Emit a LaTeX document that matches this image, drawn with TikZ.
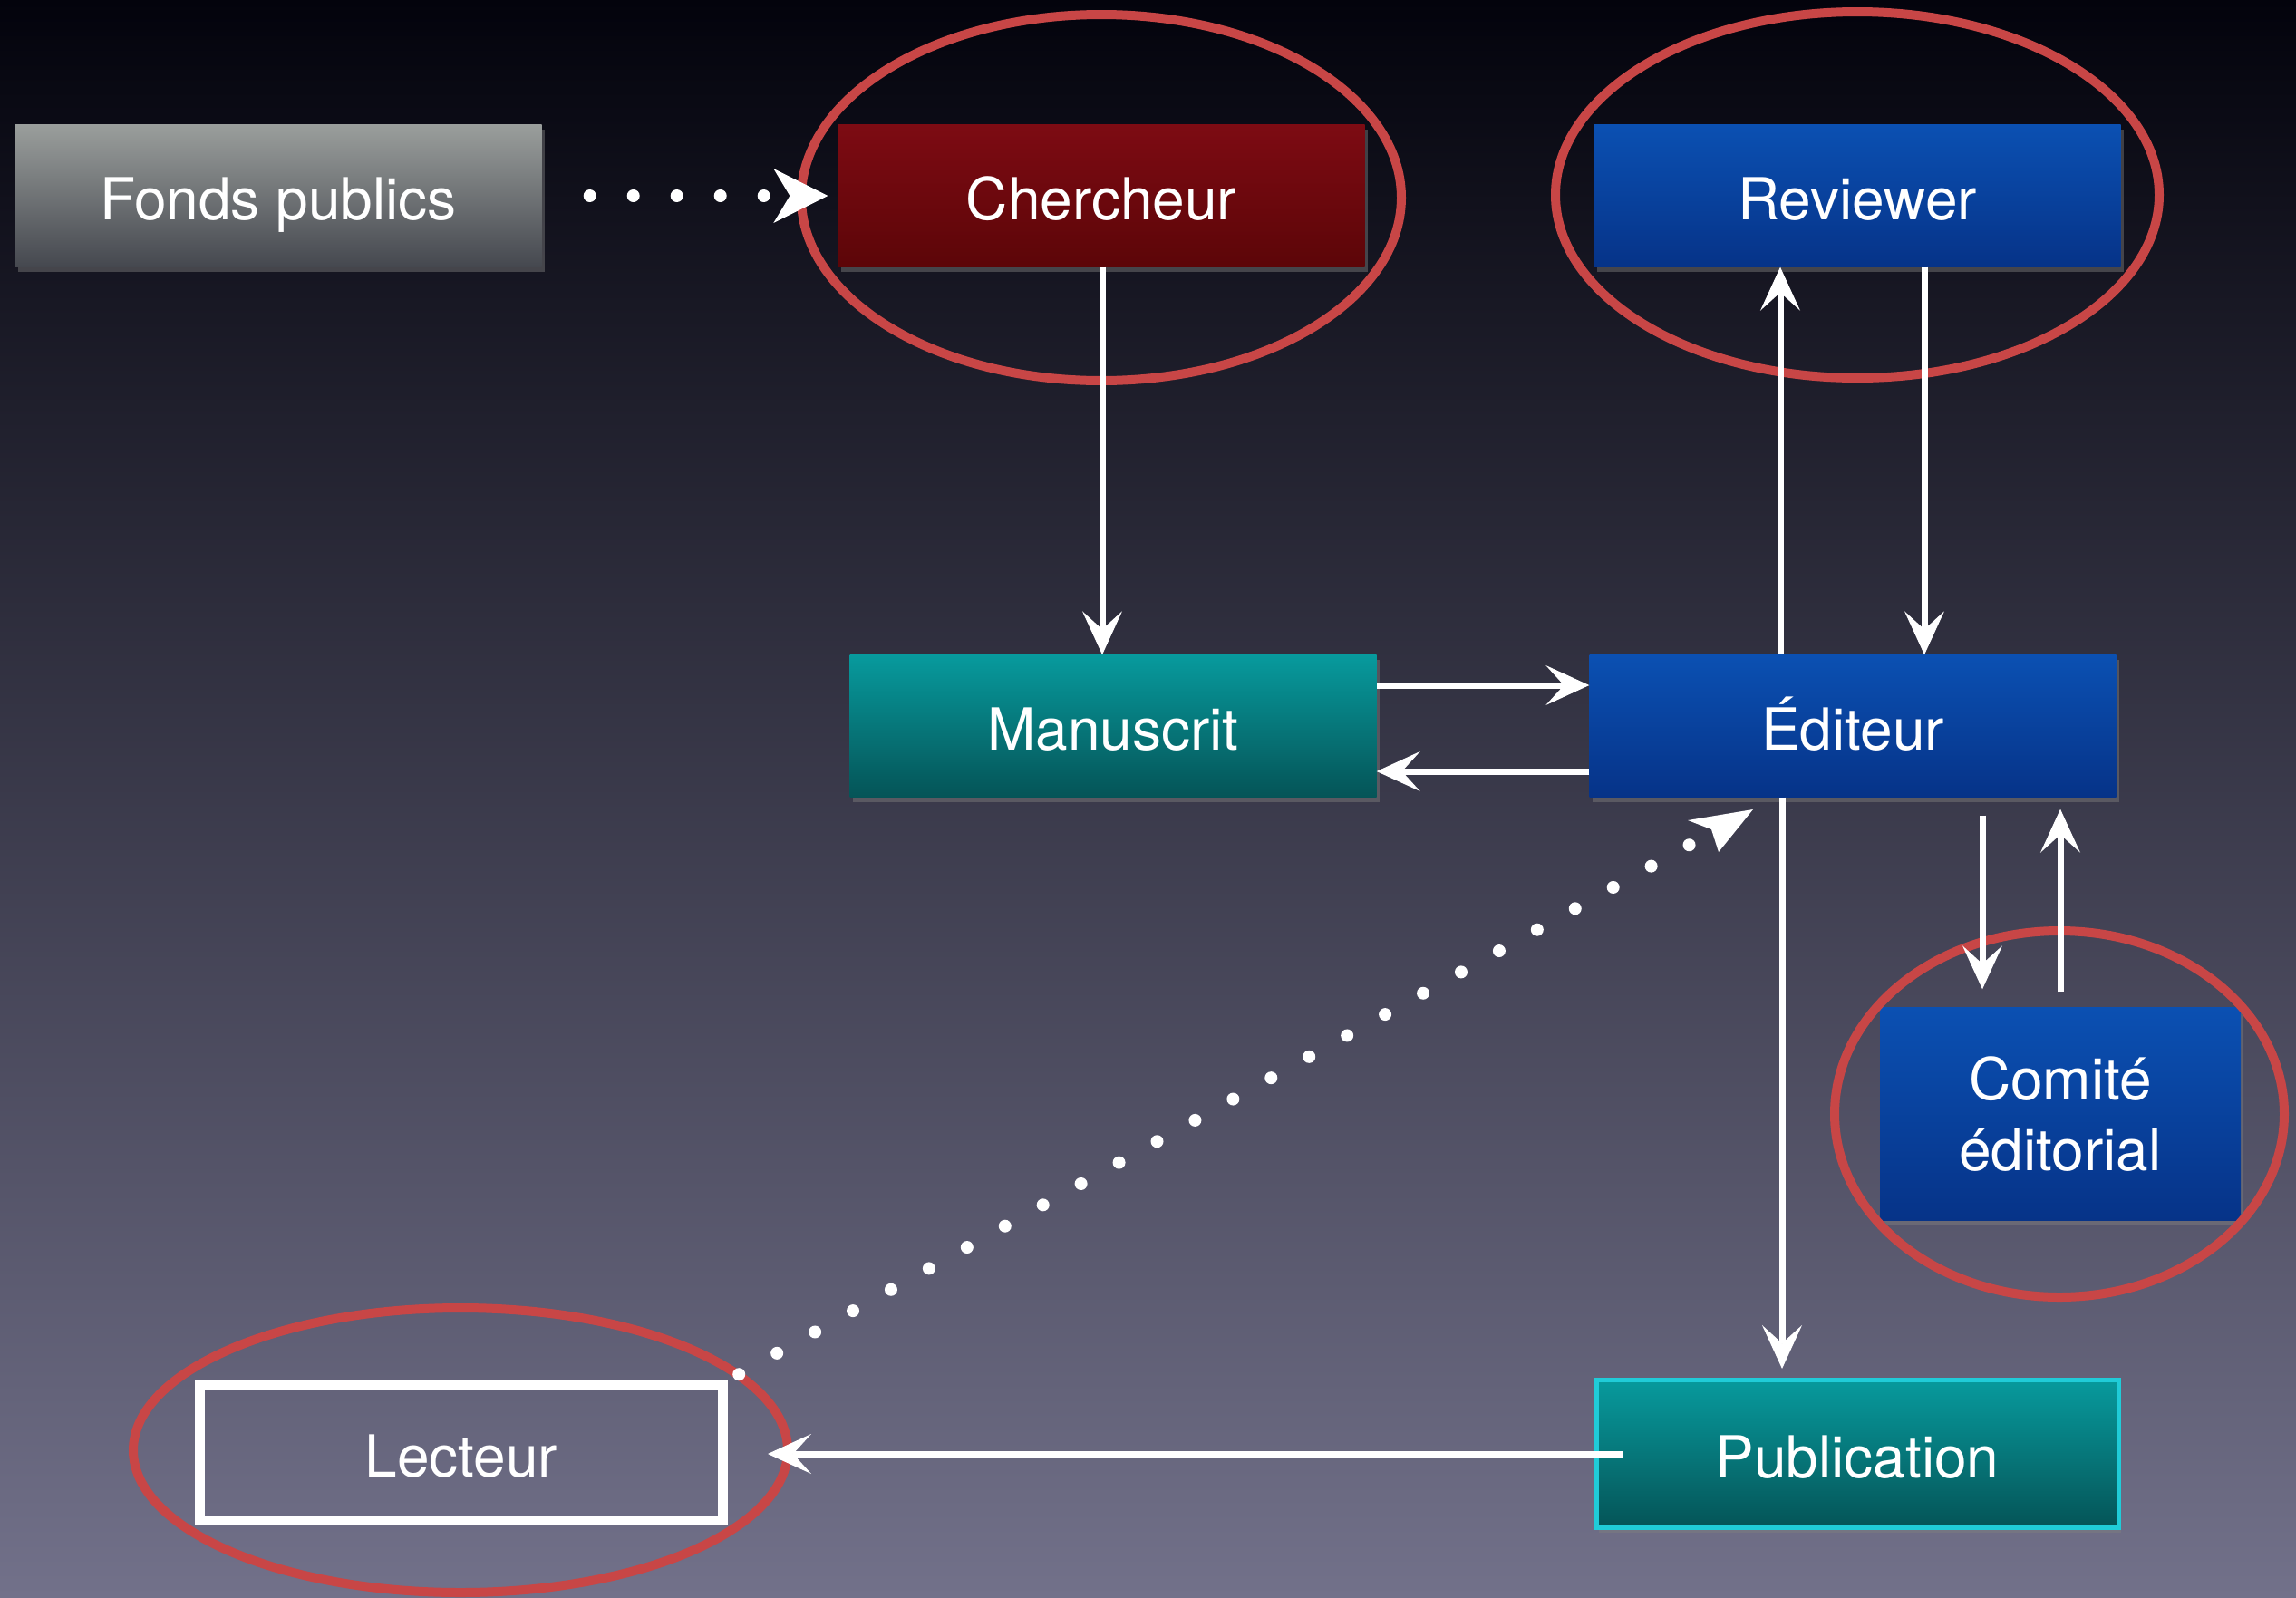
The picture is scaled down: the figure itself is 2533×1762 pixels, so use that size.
\documentclass[tikz,border=0pt]{standalone}
\usepackage{fontspec}
\setmainfont{TeX Gyre Heros}
\usetikzlibrary{arrows.meta,calc,shadows}
\definecolor{bgtop}{HTML}{03030C}
\definecolor{bgmid}{HTML}{2E2D4B}
\definecolor{bgbot}{HTML}{72718A}
\definecolor{graytop}{HTML}{9A9E9C}
\definecolor{graybot}{HTML}{45484F}
\definecolor{redtop}{HTML}{7D0B13}
\definecolor{redbot}{HTML}{5C0508}
\definecolor{bluetop}{HTML}{0B50B2}
\definecolor{bluebot}{HTML}{063388}
\definecolor{tealtop}{HTML}{079A9D}
\definecolor{tealbot}{HTML}{055457}
\definecolor{cyanborder}{HTML}{20CCD8}
\definecolor{ringred}{HTML}{C84646}
\tikzset{
  label text/.style={minimum width=581pt, minimum height=157pt, inner sep=0pt,
    text=white, align=center, font=\fontsize{64}{78}\selectfont},
  oneline/.style={text height=56pt, text depth=4pt},
  box/.style={label text,
    drop shadow={opacity=0.45, shadow xshift=3pt, shadow yshift=-5pt}},
  graybox/.style={box, oneline, top color=graytop, bottom color=graybot},
  redbox/.style={box, oneline, top color=redtop, bottom color=redbot},
  bluebox/.style={box, top color=bluetop, bottom color=bluebot},
  tealbox/.style={box, oneline, top color=tealtop, bottom color=tealbot},
  ring/.style={draw=ringred, line width=10pt},
  chalk/.style={draw=white, line width=7pt,
    -{Stealth[length=48pt, width=44pt, inset=20pt, line width=1pt]}},
  dotline/.style={draw=white, line width=14pt, line cap=round,
    dash pattern=on 0pt off 48pt},
}
\begin{document}
\begin{tikzpicture}[x=1pt, y=-1pt]
\shade[top color=bgtop, middle color=bgmid, bottom color=bgbot] (0,0) rectangle (2533,1762);
\useasboundingbox (0,0) rectangle (2533,1762);

% boxes
\node[graybox] (fonds) at (307,216) {Fonds publics};
\node[redbox] (cherch) at (1215,216) {Chercheur};
\node[bluebox, oneline] (rev) at (2049,216) {Reviewer};
\node[tealbox] (manu) at (1228,801) {Manuscrit};
\node[bluebox, oneline] (edit) at (2044,801) {Éditeur};
\node[bluebox, minimum width=398pt, minimum height=235pt] (comite) at (2273,1229) {Comité\\éditorial};
\node[tealbox, draw=cyanborder, line width=5pt, minimum width=576pt, minimum height=163pt] (pub) at (2049,1604) {Publication};
\node[label text, oneline, draw=white, line width=11pt, minimum width=577pt, minimum height=149pt] (lect) at (509,1603) {Lecteur};

% red rings
\draw[ring] (1215,218) ellipse [x radius=331, y radius=202];
\draw[ring] (2049,215) ellipse [x radius=333, y radius=202];
\draw[ring] (2272,1229) ellipse [x radius=248, y radius=202];
\draw[ring] (508,1600) ellipse [x radius=361, y radius=157];

% connectors
\draw[dotline, shorten <=53pt] (fonds.east) -- (cherch.west);
\fill[white] ($(cherch.west)+(-11,0)$) -- ++(-60,-30) -- ++(18,30) -- ++(-18,30) -- cycle;

\draw[chalk] ([xshift=1pt]cherch.south) -- ([xshift=1pt]cherch.south |- manu.north);
\draw[chalk] ([xshift=-80pt]edit.north) -- ([xshift=-80pt]edit.north |- rev.south);
\draw[chalk] ([xshift=74pt]rev.south) -- ([xshift=74pt]rev.south |- edit.north);
\draw[chalk] ([yshift=45pt]manu.east) -- ([yshift=45pt]manu.east -| edit.west);
\draw[chalk] ([yshift=-50pt]edit.west) -- ([yshift=-50pt]edit.west -| manu.east);
\draw[chalk, shorten >=10pt] ([xshift=-78pt]edit.south) -- ([xshift=-78pt]edit.south |- pub.north);
\draw[chalk, shorten <=20pt, shorten >=20pt] ([xshift=143pt]edit.south) -- ([xshift=143pt]edit.south |- comite.north);
\draw[chalk, shorten <=17pt, shorten >=13pt] (comite.north) -- (comite.north |- edit.south);
\draw[chalk, shorten >=12pt] ([xshift=32pt]pub.west) -- ([xshift=32pt]pub.west -| lect.east);

\coordinate (dtip) at (1934,893);
\draw[dotline, shorten <=14pt, shorten >=70pt] (lect.north east) -- (dtip);
\fill[white] (dtip) -- ++(-72,12) -- ++(26,10) -- ++(8,25) -- cycle;
\end{tikzpicture}
\end{document}
